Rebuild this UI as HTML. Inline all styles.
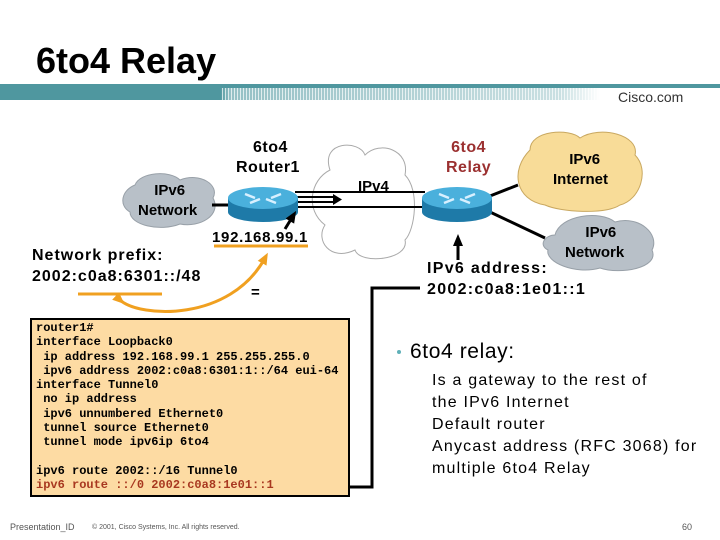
<!DOCTYPE html>
<html><head><style>
body{margin:0;width:720px;height:540px;background:#fff;position:relative;overflow:hidden;font-family:"Liberation Sans",sans-serif}
.t{position:absolute;font-weight:bold;white-space:nowrap}
.w{font-size:16px;letter-spacing:1px}
</style></head><body>
<div class="t" style="left:36px;top:40px;font-size:36px;color:#000;">6to4 Relay</div>
<div style="position:absolute;left:0;top:84px;width:720px;height:16px;background:linear-gradient(90deg,#4f979f 0,#4f979f 220px,rgba(79,151,159,0.6) 230px,rgba(79,151,159,0.3) 560px,rgba(79,151,159,0) 600px)"></div>
<div style="position:absolute;left:0;top:84px;width:720px;height:4px;background:#4f979f"></div>
<div style="position:absolute;left:222px;top:88px;width:380px;height:12px;background:repeating-linear-gradient(90deg,rgba(255,255,255,0.7) 0 1px,transparent 1px 3px)"></div>
<div class="t" style="left:618px;top:89px;font-size:14px;font-weight:normal;color:#333">Cisco.com</div>

<svg width="720" height="540" style="position:absolute;left:0;top:0">
<defs>
<marker id="a" markerUnits="userSpaceOnUse" markerWidth="12" markerHeight="12" refX="6" refY="6" orient="auto"><path d="M0,1L12,6L0,11z" fill="#000"/></marker>
<marker id="o" markerUnits="userSpaceOnUse" markerWidth="12" markerHeight="12" refX="6" refY="6" orient="auto"><path d="M0,1L12,6L0,11z" fill="#f0a020"/></marker>
</defs>
<path d="M330,170 C320,140 360,140 365,155 C380,140 410,150 405,175 C420,190 415,230 405,240 C410,260 360,265 355,250 C330,262 315,240 325,225 C305,210 310,180 330,170z" fill="#fff" stroke="#aaa" stroke-width="1"/>
<path d="M530,150 C530,130 570,128 580,138 C600,125 640,135 635,155 C650,170 640,200 620,205 C605,215 560,212 545,205 C515,200 510,170 530,150z" fill="#f8dc98" stroke="#c9a860" stroke-width="1"/>
<path d="M555,235 C560,215 600,210 615,222 C640,215 660,235 652,250 C660,268 620,275 600,268 C575,275 545,262 548,250 C538,245 545,235 555,235z" fill="#b8c0c8" stroke="#98a0a8"/>
<path d="M135,185 C140,172 170,170 180,180 C200,172 220,185 213,198 C222,215 200,228 180,224 C160,232 130,225 130,212 C118,205 122,190 135,185z" fill="#b8c0c8" stroke="#98a0a8"/>
<line x1="212" y1="205" x2="230" y2="205" stroke="#000" stroke-width="3"/>
<line x1="295" y1="192" x2="425" y2="192" stroke="#000" stroke-width="2"/>
<line x1="295" y1="207" x2="425" y2="207" stroke="#000" stroke-width="2"/>
<line x1="296" y1="197" x2="335" y2="197" stroke="#000" stroke-width="2"/>
<line x1="296" y1="202" x2="335" y2="202" stroke="#000" stroke-width="2"/>
<path d="M333,194L342,199.5L333,205z" fill="#000"/>
<line x1="490" y1="196" x2="518" y2="185" stroke="#000" stroke-width="3"/>
<line x1="490" y1="212" x2="545" y2="238" stroke="#000" stroke-width="3"/>
<g>
<rect x="228" y="198" width="70" height="14" fill="#1e7aa8"/>
<ellipse cx="263" cy="212" rx="35" ry="10" fill="#1e7aa8"/>
<ellipse cx="263" cy="198" rx="35" ry="11" fill="#4ab0dc"/>
<path d="M245,194 l10,4 M281,194 l-10,4 M250,203 l10,-4 M276,203 l-10,-4" stroke="#d8f0ff" stroke-width="2.5"/>
</g>
<g>
<rect x="422" y="198" width="70" height="14" fill="#1e7aa8"/>
<ellipse cx="457" cy="212" rx="35" ry="10" fill="#1e7aa8"/>
<ellipse cx="457" cy="198" rx="35" ry="11" fill="#4ab0dc"/>
<path d="M439,194 l10,4 M475,194 l-10,4 M444,203 l10,-4 M470,203 l-10,-4" stroke="#d8f0ff" stroke-width="2.5"/>
</g>
<line x1="285" y1="229" x2="293" y2="216" stroke="#000" stroke-width="3" marker-end="url(#a)"/>
<line x1="458" y1="260" x2="458" y2="240" stroke="#000" stroke-width="3" marker-end="url(#a)"/>
<line x1="214" y1="246" x2="308" y2="246" stroke="#f0a020" stroke-width="3"/>
<line x1="78" y1="294" x2="162" y2="294" stroke="#f0a020" stroke-width="3"/>
<path d="M120,300 C140,318 230,322 265,258" fill="none" stroke="#f0a020" stroke-width="3" marker-end="url(#o)" marker-start="url(#o)"/>
<path d="M350,487 H372 V288 H420" fill="none" stroke="#000" stroke-width="3"/>
</svg>

<div class="t" style="left:236px;top:138px;font-size:16px;text-align:center;line-height:20px;letter-spacing:0.5px">&nbsp;6to4<br>Router1</div>
<div class="t" style="left:446px;top:138px;font-size:16px;color:#9b3030;text-align:center;line-height:20px;letter-spacing:0.5px">6to4<br>Relay</div>
<div class="t" style="left:358px;top:178px;font-size:15px">IPv4</div>
<div class="t" style="left:138px;top:181px;font-size:15px;text-align:center;line-height:20px">&nbsp;IPv6<br>Network</div>
<div class="t" style="left:553px;top:150px;font-size:15px;text-align:center;line-height:20px">&nbsp;&nbsp;IPv6<br>Internet</div>
<div class="t" style="left:565px;top:223px;font-size:15px;text-align:center;line-height:20px">&nbsp;&nbsp;&nbsp;IPv6<br>Network</div>
<div class="t" style="left:212px;top:229px;font-size:15px;letter-spacing:0.7px">192.168.99.1</div>
<div class="t w" style="left:32px;top:245px;line-height:21px">Network prefix:<br>2002:c0a8:6301::/48</div>
<div class="t" style="left:251px;top:284px;font-size:15px">=</div>
<div class="t w" style="left:427px;top:258px;line-height:21px;letter-spacing:1.3px">IPv6 address:<br>2002:c0a8:1e01::1</div>

<div style="position:absolute;left:30px;top:318px;width:316px;height:175px;background:#fddba3;border:2px solid #000"></div>
<pre style="position:absolute;left:36px;top:321px;margin:0;font-family:'Liberation Mono',monospace;font-weight:bold;font-size:12px;line-height:14.3px;color:#000">router1#
interface Loopback0
 ip address 192.168.99.1 255.255.255.0
 ipv6 address 2002:c0a8:6301:1::/64 eui-64
interface Tunnel0
 no ip address
 ipv6 unnumbered Ethernet0
 tunnel source Ethernet0
 tunnel mode ipv6ip 6to4

ipv6 route 2002::/16 Tunnel0
<span style="color:#a83820">ipv6 route ::/0 2002:c0a8:1e01::1</span></pre>

<div style="position:absolute;left:397px;top:350px;width:4px;height:4px;border-radius:50%;background:#5fb0b8"></div>
<div class="t" style="left:410px;top:340px;font-size:21px;font-weight:normal;letter-spacing:0.6px">6to4 relay:</div>
<div class="t" style="left:432px;top:370px;font-size:16px;font-weight:normal;line-height:22px;letter-spacing:1.2px">Is a gateway to the rest of<br>the IPv6 Internet<br>Default router<br>Anycast address (RFC 3068) for<br>multiple 6to4 Relay</div>

<div class="t" style="left:10px;top:522px;font-size:9px;font-weight:normal;color:#555">Presentation_ID</div>
<div class="t" style="left:92px;top:524px;font-size:7px;font-weight:normal;color:#555">© 2001, Cisco Systems, Inc. All rights reserved.</div>
<div class="t" style="left:682px;top:522px;font-size:9px;font-weight:normal;color:#555">60</div>
</body></html>
